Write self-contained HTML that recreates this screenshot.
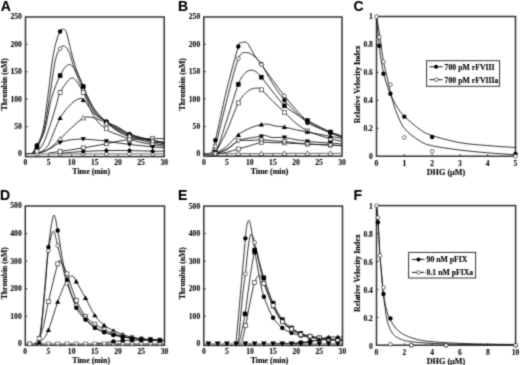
<!DOCTYPE html>
<html><head><meta charset="utf-8"><style>
html,body{margin:0;padding:0;background:#fff;width:520px;height:365px;overflow:hidden}
svg{display:block;filter:grayscale(100%)}
</style></head><body>
<svg width="520" height="365" viewBox="0 0 520 365">
<defs><filter id="bl" x="0" y="0" width="520" height="365" filterUnits="userSpaceOnUse" color-interpolation-filters="sRGB"><feConvolveMatrix order="3" kernelMatrix="0.0276 0.1109 0.0276 0.1109 0.4460 0.1109 0.0276 0.1109 0.0276" divisor="1" edgeMode="duplicate"/></filter></defs>
<g filter="url(#bl)">
<rect width="520" height="365" fill="#fff"/>
<text transform="translate(0.7,10.8) scale(1.0,1)" font-size="14" font-family="Liberation Sans" font-weight="bold" stroke="#000" stroke-width="0.1">A</text>
<rect x="25.5" y="17" width="138.7" height="139.6" fill="none" stroke="#333" stroke-width="1.5"/>
<line x1="48.53" y1="156.6" x2="48.53" y2="154.6" stroke="#333" stroke-width="1"/>
<line x1="71.67" y1="156.6" x2="71.67" y2="154.6" stroke="#333" stroke-width="1"/>
<line x1="94.8" y1="156.6" x2="94.8" y2="154.6" stroke="#333" stroke-width="1"/>
<line x1="117.93" y1="156.6" x2="117.93" y2="154.6" stroke="#333" stroke-width="1"/>
<line x1="141.07" y1="156.6" x2="141.07" y2="154.6" stroke="#333" stroke-width="1"/>
<line x1="25.5" y1="126.52" x2="27.5" y2="126.52" stroke="#333" stroke-width="1"/>
<line x1="25.5" y1="99.14" x2="27.5" y2="99.14" stroke="#333" stroke-width="1"/>
<line x1="25.5" y1="71.76" x2="27.5" y2="71.76" stroke="#333" stroke-width="1"/>
<line x1="25.5" y1="44.38" x2="27.5" y2="44.38" stroke="#333" stroke-width="1"/>
<text x="25.4" y="165.4" text-anchor="middle" font-size="7.6" font-family="Liberation Serif" font-weight="bold" fill="#000" stroke="#000" stroke-width="0.08">0</text>
<text x="48.53" y="165.4" text-anchor="middle" font-size="7.6" font-family="Liberation Serif" font-weight="bold" fill="#000" stroke="#000" stroke-width="0.08">5</text>
<text x="71.67" y="165.4" text-anchor="middle" font-size="7.6" font-family="Liberation Serif" font-weight="bold" fill="#000" stroke="#000" stroke-width="0.08">10</text>
<text x="94.8" y="165.4" text-anchor="middle" font-size="7.6" font-family="Liberation Serif" font-weight="bold" fill="#000" stroke="#000" stroke-width="0.08">15</text>
<text x="117.93" y="165.4" text-anchor="middle" font-size="7.6" font-family="Liberation Serif" font-weight="bold" fill="#000" stroke="#000" stroke-width="0.08">20</text>
<text x="141.07" y="165.4" text-anchor="middle" font-size="7.6" font-family="Liberation Serif" font-weight="bold" fill="#000" stroke="#000" stroke-width="0.08">25</text>
<text x="164.2" y="165.4" text-anchor="middle" font-size="7.6" font-family="Liberation Serif" font-weight="bold" fill="#000" stroke="#000" stroke-width="0.08">30</text>
<text x="21.9" y="156.3" text-anchor="end" font-size="7.6" font-family="Liberation Serif" font-weight="bold" fill="#000" stroke="#000" stroke-width="0.08">0</text>
<text x="21.9" y="128.92" text-anchor="end" font-size="7.6" font-family="Liberation Serif" font-weight="bold" fill="#000" stroke="#000" stroke-width="0.08">50</text>
<text x="21.9" y="101.54" text-anchor="end" font-size="7.6" font-family="Liberation Serif" font-weight="bold" fill="#000" stroke="#000" stroke-width="0.08">100</text>
<text x="21.9" y="74.16" text-anchor="end" font-size="7.6" font-family="Liberation Serif" font-weight="bold" fill="#000" stroke="#000" stroke-width="0.08">150</text>
<text x="21.9" y="46.78" text-anchor="end" font-size="7.6" font-family="Liberation Serif" font-weight="bold" fill="#000" stroke="#000" stroke-width="0.08">200</text>
<text x="21.9" y="19.4" text-anchor="end" font-size="7.6" font-family="Liberation Serif" font-weight="bold" fill="#000" stroke="#000" stroke-width="0.08">250</text>
<text transform="translate(6.9,84.3) rotate(-90)" text-anchor="middle" font-size="7.7" font-family="Liberation Serif" font-weight="bold" stroke="#000" stroke-width="0.12">Thrombin (nM)</text>
<text x="91.2" y="173.9" text-anchor="middle" font-size="7.9" font-family="Liberation Serif" font-weight="bold" stroke="#000" stroke-width="0.12">Time (min)</text>
<path d="M25.4,153.9 C48.53,153.9 141.07,153.9 164.2,153.9" fill="none" stroke="#555" stroke-width="0.9"/>
<path d="M60.1,153.35 C63.96,153.04 75.52,151.95 83.23,151.49 C90.94,151.03 98.66,150.76 106.37,150.61 C114.08,150.47 121.79,150.52 129.5,150.61 C137.21,150.71 146.85,151.07 152.63,151.16 C158.42,151.25 162.27,151.16 164.2,151.16" fill="none" stroke="#1a1a1a" stroke-width="0.9"/>
<path d="M48.53,153.08 C50.46,152.8 56.24,151.98 60.1,151.44 C63.96,150.89 67.81,150.39 71.67,149.79 C75.52,149.2 79.38,148.52 83.23,147.88 C87.09,147.24 90.94,146.64 94.8,145.96 C98.66,145.28 102.51,144.6 106.37,143.82 C110.22,143.05 114.08,142.03 117.93,141.31 C121.79,140.58 125.64,139.91 129.5,139.5 C133.36,139.09 137.21,139 141.07,138.84 C144.92,138.69 148.78,138.61 152.63,138.57 C156.49,138.52 162.27,138.57 164.2,138.57" fill="none" stroke="#1a1a1a" stroke-width="0.9"/>
<path d="M36.97,153.63 C38.89,152.94 44.68,151.35 48.53,149.52 C52.39,147.68 56.24,144.26 60.1,142.62 C63.96,140.98 67.81,140.25 71.67,139.66 C75.52,139.08 79.38,139.07 83.23,139.11 C87.09,139.16 90.94,139.61 94.8,139.94 C98.66,140.26 102.51,140.58 106.37,141.09 C110.22,141.59 114.08,142.39 117.93,142.95 C121.79,143.5 125.64,143.97 129.5,144.43 C133.36,144.88 137.21,145.28 141.07,145.69 C144.92,146.1 148.78,146.53 152.63,146.89 C156.49,147.26 162.27,147.71 164.2,147.88" fill="none" stroke="#1a1a1a" stroke-width="0.9"/>
<path d="M36.97,153.35 C38.51,152.9 43.33,152.12 46.22,150.61 C49.11,149.11 52,146.23 54.32,144.32 C56.63,142.4 57.21,141.9 60.1,139.11 C62.99,136.33 67.81,131.13 71.67,127.62 C75.52,124.1 80.07,119.77 83.23,118.03 C86.39,116.3 88.32,117.07 90.64,117.21 C92.95,117.35 94.49,117.85 97.11,118.85 C99.74,119.86 102.9,121.32 106.37,123.23 C109.84,125.15 114.08,128.25 117.93,130.35 C121.79,132.45 125.64,134.46 129.5,135.83 C133.36,137.2 137.21,137.75 141.07,138.57 C144.92,139.39 148.78,140.12 152.63,140.76 C156.49,141.4 162.27,142.13 164.2,142.4" fill="none" stroke="#1a1a1a" stroke-width="0.9"/>
<path d="M25.4,153.9 C27.33,153.72 34.04,153.35 36.97,152.8 C39.9,152.26 40.98,152.15 42.98,150.61 C44.99,149.08 46.14,149.04 49,143.61 C51.85,138.17 56.32,124.71 60.1,118.03 C63.88,111.35 68.35,106.76 71.67,103.52 C74.98,100.28 77.84,99.05 79.99,98.59 C82.15,98.14 82.15,98.14 84.62,100.78 C87.09,103.43 91.18,111.05 94.8,114.47 C98.42,117.9 102.51,119.04 106.37,121.32 C110.22,123.6 114.08,126.09 117.93,128.16 C121.79,130.23 125.64,132.2 129.5,133.75 C133.36,135.3 137.21,136.4 141.07,137.47 C144.92,138.55 148.78,139.39 152.63,140.21 C156.49,141.03 162.27,142.04 164.2,142.4" fill="none" stroke="#1a1a1a" stroke-width="0.9"/>
<path d="M32.34,153.63 C33.11,153.22 35.19,152.76 36.97,151.16 C38.74,149.56 41.05,147.57 42.98,144.04 C44.91,140.52 46.45,136.05 48.53,130.02 C50.62,124 53.55,114.14 55.47,107.9 C57.4,101.66 57.63,97.45 60.1,92.57 C62.57,87.69 67.58,80.52 70.28,78.61 C72.98,76.69 74.13,78.74 76.29,81.07 C78.45,83.4 81.61,89.65 83.23,92.57 C84.85,95.49 84.08,94.39 86.01,98.59 C87.94,102.79 91.41,112.6 94.8,117.76 C98.19,122.91 102.51,126.7 106.37,129.53 C110.22,132.36 114.08,133.14 117.93,134.73 C121.79,136.33 125.64,137.84 129.5,139.11 C133.36,140.39 137.21,141.49 141.07,142.4 C144.92,143.31 148.78,143.95 152.63,144.59 C156.49,145.23 162.27,145.96 164.2,146.23" fill="none" stroke="#1a1a1a" stroke-width="0.9"/>
<path d="M32.34,153.63 C33.11,152.49 34.88,150.71 36.97,146.78 C39.05,142.85 42.4,138.1 44.83,130.02 C47.26,121.95 49,107.39 51.54,98.32 C54.09,89.25 57.29,81.21 60.1,75.59 C62.91,69.98 65.73,65.37 68.43,64.64 C71.13,63.91 73.83,67.56 76.29,71.21 C78.76,74.86 81.61,82.62 83.23,86.55 C84.85,90.47 84.08,90.38 86.01,94.76 C87.94,99.14 91.41,108.27 94.8,112.83 C98.19,117.39 102.51,119.4 106.37,122.14 C110.22,124.88 114.08,127.07 117.93,129.26 C121.79,131.45 125.64,133.68 129.5,135.28 C133.36,136.88 137.21,137.84 141.07,138.84 C144.92,139.84 148.78,140.53 152.63,141.31 C156.49,142.08 162.27,143.13 164.2,143.5" fill="none" stroke="#1a1a1a" stroke-width="0.9"/>
<path d="M32.34,153.35 C33.11,152.53 35.04,152.31 36.97,148.42 C38.89,144.54 41.82,138.38 43.91,130.02 C45.99,121.67 47.57,109.85 49.46,98.32 C51.35,86.78 53.47,69.07 55.24,60.81 C57.02,52.55 58.6,51.22 60.1,48.76 C61.6,46.3 62.72,45.38 64.26,46.02 C65.81,46.66 67.66,48.76 69.35,52.59 C71.05,56.43 72.13,62.72 74.44,69.02 C76.76,75.32 81.31,85.91 83.23,90.38 C85.16,94.85 84.08,92.39 86.01,95.85 C87.94,99.32 91.41,106.81 94.8,111.19 C98.19,115.57 102.51,118.76 106.37,122.14 C110.22,125.52 114.08,128.98 117.93,131.45 C121.79,133.91 125.64,135.46 129.5,136.92 C133.36,138.38 137.21,139.21 141.07,140.21 C144.92,141.21 148.78,142.13 152.63,142.95 C156.49,143.77 162.27,144.77 164.2,145.14" fill="none" stroke="#1a1a1a" stroke-width="0.9"/>
<path d="M32.34,153.35 C33.11,151.98 35.19,149.03 36.97,145.14 C38.74,141.25 41.21,137.83 42.98,130.02 C44.75,122.22 46.03,110 47.61,98.32 C49.19,86.64 51,69.47 52.47,59.93 C53.93,50.39 55.13,45.83 56.4,41.09 C57.67,36.36 58.94,33.47 60.1,31.51 C61.26,29.55 62.3,29.18 63.34,29.32 C64.38,29.46 65.04,28.64 66.35,32.33 C67.66,36.03 69.51,45.2 71.2,51.5 C72.9,57.8 74.52,64.32 76.52,70.12 C78.53,75.91 81.65,82.44 83.23,86.27 C84.81,90.1 84.08,89.24 86.01,93.12 C87.94,97 91.41,104.8 94.8,109.54 C98.19,114.29 102.51,118.67 106.37,121.59 C110.22,124.51 114.08,124.97 117.93,127.07 C121.79,129.17 125.64,132.36 129.5,134.19 C133.36,136.01 137.21,136.88 141.07,138.02 C144.92,139.16 148.78,140.12 152.63,141.03 C156.49,141.94 162.27,143.08 164.2,143.5" fill="none" stroke="#1a1a1a" stroke-width="0.9"/>
<circle cx="36.97" cy="145.14" r="2.2" fill="#000"/>
<circle cx="60.1" cy="31.51" r="2.2" fill="#000"/>
<circle cx="83.23" cy="86.55" r="2.2" fill="#000"/>
<circle cx="106.37" cy="121.59" r="2.2" fill="#000"/>
<circle cx="129.5" cy="134.19" r="2.2" fill="#000"/>
<circle cx="152.63" cy="141.03" r="2.2" fill="#000"/>
<circle cx="36.97" cy="153.9" r="1.9" fill="#fff" stroke="#222" stroke-width="0.65"/>
<circle cx="60.1" cy="153.9" r="1.9" fill="#fff" stroke="#222" stroke-width="0.65"/>
<circle cx="83.23" cy="153.9" r="1.9" fill="#fff" stroke="#222" stroke-width="0.65"/>
<circle cx="106.37" cy="153.9" r="1.9" fill="#fff" stroke="#222" stroke-width="0.65"/>
<circle cx="129.5" cy="153.9" r="1.9" fill="#fff" stroke="#222" stroke-width="0.65"/>
<circle cx="152.63" cy="153.9" r="1.9" fill="#fff" stroke="#222" stroke-width="0.65"/>
<circle cx="36.97" cy="148.42" r="1.9" fill="#fff" stroke="#222" stroke-width="0.65"/>
<circle cx="60.1" cy="48.76" r="1.9" fill="#fff" stroke="#222" stroke-width="0.65"/>
<circle cx="83.23" cy="90.38" r="1.9" fill="#fff" stroke="#222" stroke-width="0.65"/>
<circle cx="106.37" cy="122.14" r="1.9" fill="#fff" stroke="#222" stroke-width="0.65"/>
<circle cx="129.5" cy="136.92" r="1.9" fill="#fff" stroke="#222" stroke-width="0.65"/>
<circle cx="152.63" cy="142.95" r="1.9" fill="#fff" stroke="#222" stroke-width="0.65"/>
<rect x="34.72" y="144.53" width="4.5" height="4.5" fill="#000"/>
<rect x="57.85" y="73.34" width="4.5" height="4.5" fill="#000"/>
<rect x="80.98" y="84.3" width="4.5" height="4.5" fill="#000"/>
<rect x="104.12" y="119.89" width="4.5" height="4.5" fill="#000"/>
<rect x="127.25" y="133.03" width="4.5" height="4.5" fill="#000"/>
<rect x="150.38" y="139.06" width="4.5" height="4.5" fill="#000"/>
<rect x="58.15" y="149.49" width="3.9" height="3.9" fill="#fff" stroke="#222" stroke-width="0.65"/>
<rect x="81.28" y="145.93" width="3.9" height="3.9" fill="#fff" stroke="#222" stroke-width="0.65"/>
<rect x="104.42" y="141.87" width="3.9" height="3.9" fill="#fff" stroke="#222" stroke-width="0.65"/>
<rect x="127.55" y="137.55" width="3.9" height="3.9" fill="#fff" stroke="#222" stroke-width="0.65"/>
<rect x="150.68" y="136.62" width="3.9" height="3.9" fill="#fff" stroke="#222" stroke-width="0.65"/>
<rect x="35.02" y="149.21" width="3.9" height="3.9" fill="#fff" stroke="#222" stroke-width="0.65"/>
<rect x="58.15" y="90.62" width="3.9" height="3.9" fill="#fff" stroke="#222" stroke-width="0.65"/>
<rect x="81.28" y="90.62" width="3.9" height="3.9" fill="#fff" stroke="#222" stroke-width="0.65"/>
<rect x="104.42" y="126.76" width="3.9" height="3.9" fill="#fff" stroke="#222" stroke-width="0.65"/>
<rect x="127.55" y="137.16" width="3.9" height="3.9" fill="#fff" stroke="#222" stroke-width="0.65"/>
<rect x="150.68" y="142.64" width="3.9" height="3.9" fill="#fff" stroke="#222" stroke-width="0.65"/>
<polygon points="60.1,115.53 62.72,119.91 57.47,119.91" fill="#000"/>
<polygon points="83.23,97.74 85.86,102.11 80.61,102.11" fill="#000"/>
<polygon points="106.37,118.82 108.99,123.19 103.74,123.19" fill="#000"/>
<polygon points="129.5,131.25 132.12,135.62 126.87,135.62" fill="#000"/>
<polygon points="152.63,137.71 155.26,142.09 150.01,142.09" fill="#000"/>
<polygon points="60.1,136.61 62.72,140.99 57.47,140.99" fill="#fff" stroke="#222" stroke-width="0.65"/>
<polygon points="83.23,115.53 85.86,119.91 80.61,119.91" fill="#fff" stroke="#222" stroke-width="0.65"/>
<polygon points="106.37,120.73 108.99,125.11 103.74,125.11" fill="#fff" stroke="#222" stroke-width="0.65"/>
<polygon points="129.5,133.33 132.12,137.7 126.87,137.7" fill="#fff" stroke="#222" stroke-width="0.65"/>
<polygon points="152.63,138.26 155.26,142.63 150.01,142.63" fill="#fff" stroke="#222" stroke-width="0.65"/>
<polygon points="60.1,145.12 62.72,140.74 57.47,140.74" fill="#000"/>
<polygon points="83.23,141.61 85.86,137.24 80.61,137.24" fill="#000"/>
<polygon points="106.37,143.59 108.99,139.21 103.74,139.21" fill="#000"/>
<polygon points="129.5,146.93 132.12,142.55 126.87,142.55" fill="#000"/>
<polygon points="152.63,149.39 155.26,145.02 150.01,145.02" fill="#000"/>
<polygon points="83.23,148.99 85.73,151.49 83.23,153.99 80.73,151.49" fill="#000"/>
<polygon points="106.37,148.11 108.87,150.61 106.37,153.11 103.87,150.61" fill="#000"/>
<polygon points="129.5,148.11 132,150.61 129.5,153.11 127,150.61" fill="#000"/>
<polygon points="152.63,148.83 155.13,151.33 152.63,153.83 150.13,151.33" fill="#000"/>
<text transform="translate(178,10.8) scale(1.0,1)" font-size="14" font-family="Liberation Sans" font-weight="bold" stroke="#000" stroke-width="0.1">B</text>
<rect x="203.8" y="17" width="138.2" height="139.2" fill="none" stroke="#333" stroke-width="1.5"/>
<line x1="226.83" y1="156.2" x2="226.83" y2="154.2" stroke="#333" stroke-width="1"/>
<line x1="249.87" y1="156.2" x2="249.87" y2="154.2" stroke="#333" stroke-width="1"/>
<line x1="272.9" y1="156.2" x2="272.9" y2="154.2" stroke="#333" stroke-width="1"/>
<line x1="295.93" y1="156.2" x2="295.93" y2="154.2" stroke="#333" stroke-width="1"/>
<line x1="318.97" y1="156.2" x2="318.97" y2="154.2" stroke="#333" stroke-width="1"/>
<line x1="203.8" y1="126.52" x2="205.8" y2="126.52" stroke="#333" stroke-width="1"/>
<line x1="203.8" y1="99.14" x2="205.8" y2="99.14" stroke="#333" stroke-width="1"/>
<line x1="203.8" y1="71.76" x2="205.8" y2="71.76" stroke="#333" stroke-width="1"/>
<line x1="203.8" y1="44.38" x2="205.8" y2="44.38" stroke="#333" stroke-width="1"/>
<text x="203.8" y="165.4" text-anchor="middle" font-size="7.6" font-family="Liberation Serif" font-weight="bold" fill="#000" stroke="#000" stroke-width="0.08">0</text>
<text x="226.83" y="165.4" text-anchor="middle" font-size="7.6" font-family="Liberation Serif" font-weight="bold" fill="#000" stroke="#000" stroke-width="0.08">5</text>
<text x="249.87" y="165.4" text-anchor="middle" font-size="7.6" font-family="Liberation Serif" font-weight="bold" fill="#000" stroke="#000" stroke-width="0.08">10</text>
<text x="272.9" y="165.4" text-anchor="middle" font-size="7.6" font-family="Liberation Serif" font-weight="bold" fill="#000" stroke="#000" stroke-width="0.08">15</text>
<text x="295.93" y="165.4" text-anchor="middle" font-size="7.6" font-family="Liberation Serif" font-weight="bold" fill="#000" stroke="#000" stroke-width="0.08">20</text>
<text x="318.97" y="165.4" text-anchor="middle" font-size="7.6" font-family="Liberation Serif" font-weight="bold" fill="#000" stroke="#000" stroke-width="0.08">25</text>
<text x="342" y="165.4" text-anchor="middle" font-size="7.6" font-family="Liberation Serif" font-weight="bold" fill="#000" stroke="#000" stroke-width="0.08">30</text>
<text x="200.2" y="156.3" text-anchor="end" font-size="7.6" font-family="Liberation Serif" font-weight="bold" fill="#000" stroke="#000" stroke-width="0.08">0</text>
<text x="200.2" y="128.92" text-anchor="end" font-size="7.6" font-family="Liberation Serif" font-weight="bold" fill="#000" stroke="#000" stroke-width="0.08">50</text>
<text x="200.2" y="101.54" text-anchor="end" font-size="7.6" font-family="Liberation Serif" font-weight="bold" fill="#000" stroke="#000" stroke-width="0.08">100</text>
<text x="200.2" y="74.16" text-anchor="end" font-size="7.6" font-family="Liberation Serif" font-weight="bold" fill="#000" stroke="#000" stroke-width="0.08">150</text>
<text x="200.2" y="46.78" text-anchor="end" font-size="7.6" font-family="Liberation Serif" font-weight="bold" fill="#000" stroke="#000" stroke-width="0.08">200</text>
<text x="200.2" y="19.4" text-anchor="end" font-size="7.6" font-family="Liberation Serif" font-weight="bold" fill="#000" stroke="#000" stroke-width="0.08">250</text>
<text transform="translate(185.3,84.3) rotate(-90)" text-anchor="middle" font-size="7.7" font-family="Liberation Serif" font-weight="bold" stroke="#000" stroke-width="0.12">Thrombin (nM)</text>
<text x="269.6" y="173.9" text-anchor="middle" font-size="7.9" font-family="Liberation Serif" font-weight="bold" stroke="#000" stroke-width="0.12">Time (min)</text>
<path d="M203.8,153.9 C205.72,153.9 209.56,153.95 215.32,153.9 C221.08,153.85 230.67,153.67 238.35,153.63 C246.03,153.58 253.71,153.67 261.38,153.63 C269.06,153.58 276.74,153.4 284.42,153.35 C292.09,153.31 299.77,153.35 307.45,153.35 C315.13,153.35 324.73,153.35 330.48,153.35 C336.24,153.35 340.08,153.35 342,153.35" fill="none" stroke="#555" stroke-width="0.9"/>
<path d="M215.32,153.9 C217.24,153.63 222.99,153.08 226.83,152.26 C230.67,151.44 234.51,150.07 238.35,148.97 C242.19,147.88 246.03,146.76 249.87,145.69 C253.71,144.61 257.54,143.01 261.38,142.51 C265.22,142.01 269.06,142.6 272.9,142.67 C276.74,142.75 280.58,142.81 284.42,142.95 C288.26,143.08 292.09,143.31 295.93,143.5 C299.77,143.68 303.61,143.86 307.45,144.04 C311.29,144.23 315.13,144.41 318.97,144.59 C322.81,144.77 326.64,144.96 330.48,145.14 C334.32,145.32 340.08,145.59 342,145.69" fill="none" stroke="#1a1a1a" stroke-width="0.9"/>
<path d="M215.32,153.9 C217.24,153.17 222.99,151.66 226.83,149.52 C230.67,147.37 234.51,142.54 238.35,141.03 C242.19,139.53 246.03,140.68 249.87,140.48 C253.71,140.29 257.54,139.84 261.38,139.88 C265.22,139.93 269.06,140.47 272.9,140.76 C276.74,141.04 280.58,141.21 284.42,141.58 C288.26,141.94 292.09,142.54 295.93,142.95 C299.77,143.36 303.61,143.77 307.45,144.04 C311.29,144.32 315.13,144.41 318.97,144.59 C322.81,144.77 326.64,144.96 330.48,145.14 C334.32,145.32 340.08,145.59 342,145.69" fill="none" stroke="#1a1a1a" stroke-width="0.9"/>
<path d="M215.32,153.9 C217.47,152.95 224.38,150.4 228.22,148.2 C232.05,146.01 234.74,142.46 238.35,140.76 C241.96,139.06 246.03,138.75 249.87,138.02 C253.71,137.29 258.77,136.79 261.38,136.38 C263.99,135.97 263.76,135.37 265.53,135.56 C267.3,135.74 268.83,137.15 271.98,137.47 C275.13,137.79 280.42,137.11 284.42,137.47 C288.41,137.84 292.09,139.02 295.93,139.66 C299.77,140.3 303.61,140.85 307.45,141.31 C311.29,141.76 315.13,142.13 318.97,142.4 C322.81,142.67 326.64,142.67 330.48,142.95 C334.32,143.22 340.08,143.86 342,144.04" fill="none" stroke="#1a1a1a" stroke-width="0.9"/>
<path d="M215.32,153.63 C217.24,152.39 222.99,149.38 226.83,146.23 C230.67,143.08 234.51,137.75 238.35,134.73 C242.19,131.72 246.03,129.85 249.87,128.16 C253.71,126.47 258.31,125.24 261.38,124.6 C264.45,123.96 265.99,124.1 268.29,124.33 C270.6,124.56 272.52,125.52 275.2,125.97 C277.89,126.43 280.96,126.43 284.42,127.07 C287.87,127.71 292.09,128.98 295.93,129.81 C299.77,130.63 303.61,131.27 307.45,132 C311.29,132.73 315.13,133.46 318.97,134.19 C322.81,134.92 326.64,135.65 330.48,136.38 C334.32,137.11 340.08,138.2 342,138.57" fill="none" stroke="#1a1a1a" stroke-width="0.9"/>
<path d="M215.32,153.35 C217.24,149.61 222.99,139.3 226.83,130.9 C230.67,122.5 234.9,109.54 238.35,102.97 C241.81,96.4 244.72,93.94 247.56,91.47 C250.4,89.01 253.09,88.46 255.39,88.19 C257.7,87.91 258.47,87.64 261.38,89.83 C264.3,92.02 269.06,97.59 272.9,101.33 C276.74,105.07 280.58,108.63 284.42,112.28 C288.26,115.93 292.09,120.13 295.93,123.23 C299.77,126.34 303.61,128.89 307.45,130.9 C311.29,132.91 315.13,133.96 318.97,135.28 C322.81,136.6 326.64,137.84 330.48,138.84 C334.32,139.84 340.08,140.89 342,141.31" fill="none" stroke="#1a1a1a" stroke-width="0.9"/>
<path d="M203.8,153.9 C205.72,153.63 211.48,157.92 215.32,152.26 C219.16,146.6 222.99,131.27 226.83,119.95 C230.67,108.63 235.28,92.2 238.35,84.35 C241.42,76.51 243.03,75.23 245.26,72.86 C247.49,70.48 249.79,70.21 251.71,70.12 C253.63,70.03 255.16,71.12 256.78,72.31 C258.39,73.49 258.7,73.95 261.38,77.24 C264.07,80.52 269.06,87.28 272.9,92.02 C276.74,96.77 280.58,102.06 284.42,105.71 C288.26,109.36 292.09,111.46 295.93,113.93 C299.77,116.39 303.61,118.4 307.45,120.5 C311.29,122.6 315.13,124.6 318.97,126.52 C322.81,128.44 326.64,130.44 330.48,132 C334.32,133.55 340.08,135.19 342,135.83" fill="none" stroke="#1a1a1a" stroke-width="0.9"/>
<path d="M210.71,153.35 C211.48,152.17 212.63,155.09 215.32,146.23 C218,137.38 222.99,114.84 226.83,100.24 C230.67,85.63 235.05,66.56 238.35,58.62 C241.65,50.68 243.95,52.96 246.64,52.59 C249.33,52.23 252.02,54.42 254.47,56.43 C256.93,58.44 258.31,60.63 261.38,64.64 C264.45,68.66 269.06,75.32 272.9,80.52 C276.74,85.72 280.58,91.02 284.42,95.85 C288.26,100.69 292.09,105.35 295.93,109.54 C299.77,113.74 303.61,118.12 307.45,121.04 C311.29,123.96 315.13,125.15 318.97,127.07 C322.81,128.98 326.64,130.9 330.48,132.54 C334.32,134.19 340.08,136.19 342,136.92" fill="none" stroke="#1a1a1a" stroke-width="0.9"/>
<path d="M203.8,153.9 C204.95,153.72 208.79,155.09 210.71,152.8 C212.63,150.52 212.63,150.8 215.32,140.21 C218,129.62 222.99,104.89 226.83,89.28 C230.67,73.68 235.89,54.28 238.35,46.57 C240.81,38.86 240.5,43.79 241.57,43.01 C242.65,42.24 243.8,41.87 244.8,41.92 C245.8,41.96 246.72,42.42 247.56,43.28 C248.41,44.15 248.52,44.84 249.87,47.12 C251.21,49.4 253.71,54.15 255.62,56.97 C257.54,59.8 258.5,59.62 261.38,64.09 C264.26,68.57 269.06,77.78 272.9,83.81 C276.74,89.83 280.58,95.49 284.42,100.24 C288.26,104.98 292.09,108.54 295.93,112.28 C299.77,116.02 303.61,120.04 307.45,122.69 C311.29,125.33 315.13,126.43 318.97,128.16 C322.81,129.9 326.64,131.54 330.48,133.09 C334.32,134.64 340.08,136.74 342,137.47" fill="none" stroke="#1a1a1a" stroke-width="0.9"/>
<circle cx="215.32" cy="140.21" r="2.2" fill="#000"/>
<circle cx="238.35" cy="46.57" r="2.2" fill="#000"/>
<circle cx="261.38" cy="64.09" r="2.2" fill="#000"/>
<circle cx="284.42" cy="100.24" r="2.2" fill="#000"/>
<circle cx="307.45" cy="122.69" r="2.2" fill="#000"/>
<circle cx="330.48" cy="133.09" r="2.2" fill="#000"/>
<circle cx="215.32" cy="146.23" r="1.9" fill="#fff" stroke="#222" stroke-width="0.65"/>
<circle cx="238.35" cy="58.62" r="1.9" fill="#fff" stroke="#222" stroke-width="0.65"/>
<circle cx="261.38" cy="64.64" r="1.9" fill="#fff" stroke="#222" stroke-width="0.65"/>
<circle cx="284.42" cy="95.85" r="1.9" fill="#fff" stroke="#222" stroke-width="0.65"/>
<circle cx="307.45" cy="121.04" r="1.9" fill="#fff" stroke="#222" stroke-width="0.65"/>
<circle cx="330.48" cy="132.54" r="1.9" fill="#fff" stroke="#222" stroke-width="0.65"/>
<rect x="213.07" y="150.01" width="4.5" height="4.5" fill="#000"/>
<rect x="236.1" y="82.1" width="4.5" height="4.5" fill="#000"/>
<rect x="259.13" y="74.99" width="4.5" height="4.5" fill="#000"/>
<rect x="282.17" y="103.46" width="4.5" height="4.5" fill="#000"/>
<rect x="305.2" y="118.25" width="4.5" height="4.5" fill="#000"/>
<rect x="328.23" y="129.75" width="4.5" height="4.5" fill="#000"/>
<rect x="236.4" y="147.02" width="3.9" height="3.9" fill="#fff" stroke="#222" stroke-width="0.65"/>
<rect x="259.43" y="140.56" width="3.9" height="3.9" fill="#fff" stroke="#222" stroke-width="0.65"/>
<rect x="282.47" y="141" width="3.9" height="3.9" fill="#fff" stroke="#222" stroke-width="0.65"/>
<rect x="305.5" y="142.09" width="3.9" height="3.9" fill="#fff" stroke="#222" stroke-width="0.65"/>
<rect x="328.53" y="143.19" width="3.9" height="3.9" fill="#fff" stroke="#222" stroke-width="0.65"/>
<rect x="213.37" y="151.4" width="3.9" height="3.9" fill="#fff" stroke="#222" stroke-width="0.65"/>
<rect x="236.4" y="101.02" width="3.9" height="3.9" fill="#fff" stroke="#222" stroke-width="0.65"/>
<rect x="259.43" y="87.88" width="3.9" height="3.9" fill="#fff" stroke="#222" stroke-width="0.65"/>
<rect x="282.47" y="110.33" width="3.9" height="3.9" fill="#fff" stroke="#222" stroke-width="0.65"/>
<rect x="305.5" y="128.95" width="3.9" height="3.9" fill="#fff" stroke="#222" stroke-width="0.65"/>
<rect x="328.53" y="136.89" width="3.9" height="3.9" fill="#fff" stroke="#222" stroke-width="0.65"/>
<polygon points="215.32,151.13 217.94,155.5 212.69,155.5" fill="#000"/>
<polygon points="238.35,132.62 240.98,136.99 235.73,136.99" fill="#000"/>
<polygon points="261.38,122.1 264.01,126.48 258.76,126.48" fill="#000"/>
<polygon points="284.42,124.57 287.04,128.94 281.79,128.94" fill="#000"/>
<polygon points="307.45,129.5 310.07,133.87 304.82,133.87" fill="#000"/>
<polygon points="330.48,133.88 333.11,138.25 327.86,138.25" fill="#000"/>
<polygon points="215.32,151.4 217.94,155.78 212.69,155.78" fill="#fff" stroke="#222" stroke-width="0.65"/>
<polygon points="238.35,151.13 240.98,155.5 235.73,155.5" fill="#fff" stroke="#222" stroke-width="0.65"/>
<polygon points="261.38,151.13 264.01,155.5 258.76,155.5" fill="#fff" stroke="#222" stroke-width="0.65"/>
<polygon points="284.42,150.85 287.04,155.23 281.79,155.23" fill="#fff" stroke="#222" stroke-width="0.65"/>
<polygon points="307.45,150.85 310.07,155.23 304.82,155.23" fill="#fff" stroke="#222" stroke-width="0.65"/>
<polygon points="330.48,150.85 333.11,155.23 327.86,155.23" fill="#fff" stroke="#222" stroke-width="0.65"/>
<polygon points="215.32,156.4 217.94,152.03 212.69,152.03" fill="#000"/>
<polygon points="261.38,138.88 264.01,134.5 258.76,134.5" fill="#000"/>
<polygon points="284.42,139.97 287.04,135.6 281.79,135.6" fill="#000"/>
<polygon points="307.45,143.81 310.07,139.43 304.82,139.43" fill="#000"/>
<polygon points="330.48,145.45 333.11,141.07 327.86,141.07" fill="#000"/>
<polygon points="215.32,156.4 217.94,152.03 212.69,152.03" fill="#fff" stroke="#222" stroke-width="0.65"/>
<polygon points="238.35,143.26 240.98,138.88 235.73,138.88" fill="#fff" stroke="#222" stroke-width="0.65"/>
<polygon points="261.38,142.38 264.01,138.01 258.76,138.01" fill="#fff" stroke="#222" stroke-width="0.65"/>
<polygon points="284.42,144.08 287.04,139.7 281.79,139.7" fill="#fff" stroke="#222" stroke-width="0.65"/>
<polygon points="307.45,146.54 310.07,142.17 304.82,142.17" fill="#fff" stroke="#222" stroke-width="0.65"/>
<polygon points="330.48,147.64 333.11,143.26 327.86,143.26" fill="#fff" stroke="#222" stroke-width="0.65"/>
<text transform="translate(353.4,10.8) scale(1.0,1)" font-size="14" font-family="Liberation Sans" font-weight="bold" stroke="#000" stroke-width="0.1">C</text>
<rect x="376.5" y="16.5" width="139" height="139.7" fill="none" stroke="#333" stroke-width="1.5"/>
<line x1="404.3" y1="156.2" x2="404.3" y2="154.2" stroke="#333" stroke-width="1"/>
<line x1="432.1" y1="156.2" x2="432.1" y2="154.2" stroke="#333" stroke-width="1"/>
<line x1="459.9" y1="156.2" x2="459.9" y2="154.2" stroke="#333" stroke-width="1"/>
<line x1="487.7" y1="156.2" x2="487.7" y2="154.2" stroke="#333" stroke-width="1"/>
<line x1="376.5" y1="128.26" x2="378.5" y2="128.26" stroke="#333" stroke-width="1"/>
<line x1="376.5" y1="100.32" x2="378.5" y2="100.32" stroke="#333" stroke-width="1"/>
<line x1="376.5" y1="72.38" x2="378.5" y2="72.38" stroke="#333" stroke-width="1"/>
<line x1="376.5" y1="44.44" x2="378.5" y2="44.44" stroke="#333" stroke-width="1"/>
<text x="376.5" y="165.8" text-anchor="middle" font-size="7.6" font-family="Liberation Serif" font-weight="bold" fill="#000" stroke="#000" stroke-width="0.08">0</text>
<text x="404.3" y="165.8" text-anchor="middle" font-size="7.6" font-family="Liberation Serif" font-weight="bold" fill="#000" stroke="#000" stroke-width="0.08">1</text>
<text x="432.1" y="165.8" text-anchor="middle" font-size="7.6" font-family="Liberation Serif" font-weight="bold" fill="#000" stroke="#000" stroke-width="0.08">2</text>
<text x="459.9" y="165.8" text-anchor="middle" font-size="7.6" font-family="Liberation Serif" font-weight="bold" fill="#000" stroke="#000" stroke-width="0.08">3</text>
<text x="487.7" y="165.8" text-anchor="middle" font-size="7.6" font-family="Liberation Serif" font-weight="bold" fill="#000" stroke="#000" stroke-width="0.08">4</text>
<text x="515.5" y="165.8" text-anchor="middle" font-size="7.6" font-family="Liberation Serif" font-weight="bold" fill="#000" stroke="#000" stroke-width="0.08">5</text>
<text x="372.9" y="159.1" text-anchor="end" font-size="7.6" font-family="Liberation Serif" font-weight="bold" fill="#000" stroke="#000" stroke-width="0.08">0</text>
<text x="372.9" y="131.16" text-anchor="end" font-size="7.6" font-family="Liberation Serif" font-weight="bold" fill="#000" stroke="#000" stroke-width="0.08">0.2</text>
<text x="372.9" y="103.22" text-anchor="end" font-size="7.6" font-family="Liberation Serif" font-weight="bold" fill="#000" stroke="#000" stroke-width="0.08">0.4</text>
<text x="372.9" y="75.28" text-anchor="end" font-size="7.6" font-family="Liberation Serif" font-weight="bold" fill="#000" stroke="#000" stroke-width="0.08">0.6</text>
<text x="372.9" y="47.34" text-anchor="end" font-size="7.6" font-family="Liberation Serif" font-weight="bold" fill="#000" stroke="#000" stroke-width="0.08">0.8</text>
<text x="372.9" y="19.4" text-anchor="end" font-size="7.6" font-family="Liberation Serif" font-weight="bold" fill="#000" stroke="#000" stroke-width="0.08">1</text>
<text transform="translate(360.4,84.4) rotate(-90)" text-anchor="middle" font-size="7.9" font-family="Liberation Serif" font-weight="bold" stroke="#000" stroke-width="0.12">Relative Velocity Index</text>
<text x="446" y="174.8" text-anchor="middle" font-size="8.2" font-family="Liberation Serif" font-weight="bold" stroke="#000" stroke-width="0.12">DHG (µM)</text>
<path d="M376.5,16.5 C376.78,19.76 377.7,31.4 378.17,36.06 C378.63,40.71 378.82,40.48 379.28,44.44 C379.74,48.4 380.02,54.22 380.95,59.81 C381.87,65.39 383.26,72.22 384.84,77.97 C386.42,83.72 388.31,89.42 390.4,94.31 C392.49,99.2 395.03,103.65 397.35,107.3 C399.67,110.96 400.5,112.52 404.3,116.25 C408.1,119.97 415.51,126.44 420.15,129.66 C424.78,132.87 425.47,133.36 432.1,135.52 C438.73,137.69 450.63,140.97 459.9,142.65 C469.17,144.33 478.43,144.77 487.7,145.58 C496.97,146.4 510.87,147.21 515.5,147.54" fill="none" stroke="#1a1a1a" stroke-width="0.9"/>
<path d="M376.5,16.5 C377.06,19.76 378.72,28.84 379.84,36.06 C380.95,43.28 381.87,52.59 383.17,59.81 C384.47,67.02 386.42,74.01 387.62,79.36 C388.82,84.72 389.1,86.91 390.4,91.94 C391.7,96.97 393.09,103.49 395.4,109.54 C397.72,115.59 400.18,123 404.3,128.26 C408.42,133.52 415.51,138.2 420.15,141.11 C424.78,144.02 425.47,144.23 432.1,145.72 C438.73,147.21 450.63,148.87 459.9,150.05 C469.17,151.24 478.43,152.08 487.7,152.85 C496.97,153.62 510.87,154.36 515.5,154.66" fill="none" stroke="#1a1a1a" stroke-width="0.9"/>
<circle cx="379.28" cy="45.84" r="2.2" fill="#000"/>
<circle cx="383.45" cy="73.78" r="2.2" fill="#000"/>
<circle cx="390.4" cy="93.75" r="2.2" fill="#000"/>
<circle cx="404.3" cy="116.66" r="2.2" fill="#000"/>
<circle cx="432.1" cy="137.06" r="2.2" fill="#000"/>
<circle cx="515.5" cy="153.83" r="2.2" fill="#000"/>
<circle cx="376.5" cy="16.5" r="1.9" fill="#fff" stroke="#222" stroke-width="0.65"/>
<circle cx="379.28" cy="37.18" r="1.9" fill="#fff" stroke="#222" stroke-width="0.65"/>
<circle cx="383.45" cy="61.76" r="1.9" fill="#fff" stroke="#222" stroke-width="0.65"/>
<circle cx="390.4" cy="84.67" r="1.9" fill="#fff" stroke="#222" stroke-width="0.65"/>
<circle cx="404.3" cy="137.48" r="1.9" fill="#fff" stroke="#222" stroke-width="0.65"/>
<circle cx="432.1" cy="151.31" r="1.9" fill="#fff" stroke="#222" stroke-width="0.65"/>
<circle cx="515.5" cy="156.2" r="1.9" fill="#fff" stroke="#222" stroke-width="0.65"/>
<rect x="426.6" y="60.7" width="73" height="25.6" fill="#fff" stroke="#333" stroke-width="1"/>
<line x1="429.5" y1="66.8" x2="442.6" y2="66.8" stroke="#000" stroke-width="0.9"/>
<circle cx="436.1" cy="66.8" r="2.02" fill="#000"/>
<line x1="429.5" y1="79.7" x2="442.6" y2="79.7" stroke="#000" stroke-width="0.9"/>
<circle cx="436.3" cy="79.7" r="1.79" fill="#fff" stroke="#222" stroke-width="0.65"/>
<text x="444.6" y="70" font-size="7.75" font-family="Liberation Serif" font-weight="bold" stroke="#000" stroke-width="0.12">700 pM rFVIII</text>
<text x="444.6" y="83" font-size="7.75" font-family="Liberation Serif" font-weight="bold" stroke="#000" stroke-width="0.12">700 pM rFVIIIa</text>
<text transform="translate(0,199.9) scale(1.0,1)" font-size="14" font-family="Liberation Sans" font-weight="bold" stroke="#000" stroke-width="0.1">D</text>
<rect x="25.3" y="206" width="139.2" height="139.3" fill="none" stroke="#333" stroke-width="1.5"/>
<line x1="48.42" y1="345.3" x2="48.42" y2="343.3" stroke="#333" stroke-width="1"/>
<line x1="71.63" y1="345.3" x2="71.63" y2="343.3" stroke="#333" stroke-width="1"/>
<line x1="94.85" y1="345.3" x2="94.85" y2="343.3" stroke="#333" stroke-width="1"/>
<line x1="118.07" y1="345.3" x2="118.07" y2="343.3" stroke="#333" stroke-width="1"/>
<line x1="141.28" y1="345.3" x2="141.28" y2="343.3" stroke="#333" stroke-width="1"/>
<line x1="25.3" y1="316.32" x2="27.3" y2="316.32" stroke="#333" stroke-width="1"/>
<line x1="25.3" y1="288.74" x2="27.3" y2="288.74" stroke="#333" stroke-width="1"/>
<line x1="25.3" y1="261.16" x2="27.3" y2="261.16" stroke="#333" stroke-width="1"/>
<line x1="25.3" y1="233.58" x2="27.3" y2="233.58" stroke="#333" stroke-width="1"/>
<text x="25.2" y="353.9" text-anchor="middle" font-size="7.6" font-family="Liberation Serif" font-weight="bold" fill="#000" stroke="#000" stroke-width="0.08">0</text>
<text x="48.42" y="353.9" text-anchor="middle" font-size="7.6" font-family="Liberation Serif" font-weight="bold" fill="#000" stroke="#000" stroke-width="0.08">5</text>
<text x="71.63" y="353.9" text-anchor="middle" font-size="7.6" font-family="Liberation Serif" font-weight="bold" fill="#000" stroke="#000" stroke-width="0.08">10</text>
<text x="94.85" y="353.9" text-anchor="middle" font-size="7.6" font-family="Liberation Serif" font-weight="bold" fill="#000" stroke="#000" stroke-width="0.08">15</text>
<text x="118.07" y="353.9" text-anchor="middle" font-size="7.6" font-family="Liberation Serif" font-weight="bold" fill="#000" stroke="#000" stroke-width="0.08">20</text>
<text x="141.28" y="353.9" text-anchor="middle" font-size="7.6" font-family="Liberation Serif" font-weight="bold" fill="#000" stroke="#000" stroke-width="0.08">25</text>
<text x="164.5" y="353.9" text-anchor="middle" font-size="7.6" font-family="Liberation Serif" font-weight="bold" fill="#000" stroke="#000" stroke-width="0.08">30</text>
<text x="21.7" y="346.3" text-anchor="end" font-size="7.6" font-family="Liberation Serif" font-weight="bold" fill="#000" stroke="#000" stroke-width="0.08">0</text>
<text x="21.7" y="318.72" text-anchor="end" font-size="7.6" font-family="Liberation Serif" font-weight="bold" fill="#000" stroke="#000" stroke-width="0.08">100</text>
<text x="21.7" y="291.14" text-anchor="end" font-size="7.6" font-family="Liberation Serif" font-weight="bold" fill="#000" stroke="#000" stroke-width="0.08">200</text>
<text x="21.7" y="263.56" text-anchor="end" font-size="7.6" font-family="Liberation Serif" font-weight="bold" fill="#000" stroke="#000" stroke-width="0.08">300</text>
<text x="21.7" y="235.98" text-anchor="end" font-size="7.6" font-family="Liberation Serif" font-weight="bold" fill="#000" stroke="#000" stroke-width="0.08">400</text>
<text x="21.7" y="208.4" text-anchor="end" font-size="7.6" font-family="Liberation Serif" font-weight="bold" fill="#000" stroke="#000" stroke-width="0.08">500</text>
<text transform="translate(6.9,273.2) rotate(-90)" text-anchor="middle" font-size="7.7" font-family="Liberation Serif" font-weight="bold" stroke="#000" stroke-width="0.12">Thrombin (nM)</text>
<text x="91.2" y="363" text-anchor="middle" font-size="7.9" font-family="Liberation Serif" font-weight="bold" stroke="#000" stroke-width="0.12">Time (min)</text>
<path d="M25.2,343.9 C48.42,343.9 141.28,343.9 164.5,343.9" fill="none" stroke="#444" stroke-width="0.9"/>
<path d="M94.85,343.49 C96.4,343.37 101.04,343.14 104.14,342.8 C107.23,342.45 110.33,341.79 113.42,341.42 C116.52,341.05 119.61,340.77 122.71,340.59 C125.81,340.41 128.9,340.36 132,340.31 C135.09,340.27 138.19,340.29 141.28,340.31 C144.38,340.34 147.47,340.41 150.57,340.45 C153.67,340.5 157.53,340.57 159.86,340.59 C162.18,340.61 163.73,340.59 164.5,340.59" fill="none" stroke="#1a1a1a" stroke-width="0.9"/>
<path d="M34.49,343.76 C35.26,343.56 37.58,343.42 39.13,342.52 C40.68,341.62 42.23,340.45 43.77,338.38 C45.32,336.32 46.09,336.18 48.42,330.11 C50.74,324.04 55.38,308.69 57.7,301.98 C60.02,295.27 60.8,293.52 62.35,289.84 C63.89,286.17 65.75,282.07 66.99,279.91 C68.23,277.75 68.77,277.48 69.78,276.88 C70.78,276.28 71.94,275.55 73.03,276.33 C74.11,277.11 74.19,277.94 76.28,281.57 C78.37,285.2 82.47,292.46 85.56,298.12 C88.66,303.77 91.75,310.99 94.85,315.49 C97.95,320 101.04,322.62 104.14,325.15 C107.23,327.67 110.33,329.1 113.42,330.66 C116.52,332.22 119.61,333.42 122.71,334.52 C125.81,335.63 128.9,336.55 132,337.28 C135.09,338.02 138.19,338.52 141.28,338.94 C144.38,339.35 147.47,339.53 150.57,339.76 C153.67,339.99 157.53,340.18 159.86,340.31 C162.18,340.45 163.73,340.54 164.5,340.59" fill="none" stroke="#1a1a1a" stroke-width="0.9"/>
<path d="M34.49,343.62 C35.26,342.75 37.58,341.56 39.13,338.38 C40.68,335.21 42.23,330.71 43.77,324.59 C45.32,318.48 46.09,311.82 48.42,301.7 C50.74,291.59 55.69,270.54 57.7,263.92 C59.72,257.3 59.56,261.76 60.49,261.99 C61.42,262.22 62.19,263.32 63.28,265.3 C64.36,267.27 64.82,268.01 66.99,273.85 C69.16,279.68 73.18,293.24 76.28,300.32 C79.37,307.4 82.47,312.37 85.56,316.32 C88.66,320.27 91.75,321.84 94.85,324.04 C97.95,326.25 101.04,328 104.14,329.56 C107.23,331.12 110.33,332.32 113.42,333.42 C116.52,334.52 119.61,335.44 122.71,336.18 C125.81,336.91 128.9,337.37 132,337.83 C135.09,338.29 138.19,338.66 141.28,338.94 C144.38,339.21 147.47,339.3 150.57,339.49 C153.67,339.67 157.53,339.9 159.86,340.04 C162.18,340.18 163.73,340.27 164.5,340.31" fill="none" stroke="#1a1a1a" stroke-width="0.9"/>
<path d="M36.81,343.76 C37.2,343.6 38.24,346.73 39.13,342.8 C40.02,338.87 41.1,329.88 42.15,320.18 C43.19,310.48 44.35,296.19 45.4,284.6 C46.44,273.02 47.12,259.55 48.42,250.68 C49.71,241.81 51.61,232.2 53.15,231.37 C54.7,230.55 56.17,240.06 57.7,245.72 C59.24,251.37 60.8,259.05 62.35,265.3 C63.89,271.55 64.67,276.56 66.99,283.22 C69.31,289.89 73.18,299.4 76.28,305.29 C79.37,311.17 82.47,314.94 85.56,318.53 C88.66,322.11 91.75,324.59 94.85,326.8 C97.95,329.01 101.04,330.43 104.14,331.76 C107.23,333.1 110.33,333.97 113.42,334.8 C116.52,335.63 119.61,336.13 122.71,336.73 C125.81,337.33 128.9,337.97 132,338.38 C135.09,338.8 138.19,338.98 141.28,339.21 C144.38,339.44 147.47,339.58 150.57,339.76 C153.67,339.95 157.53,340.18 159.86,340.31 C162.18,340.45 163.73,340.54 164.5,340.59" fill="none" stroke="#1a1a1a" stroke-width="0.9"/>
<path d="M36.81,343.76 C37.12,343.6 37.84,346.73 38.67,342.8 C39.49,338.87 40.69,330.11 41.78,320.18 C42.86,310.25 44.06,295.41 45.17,283.22 C46.27,271.04 47.03,258.36 48.42,247.09 C49.8,235.83 51.93,218.41 53.48,215.65 C55.03,212.89 56.23,223.42 57.7,230.55 C59.18,237.67 60.8,250.17 62.35,258.4 C63.89,266.63 64.67,271.69 66.99,279.91 C69.31,288.14 73.18,301.15 76.28,307.77 C79.37,314.39 82.47,316.27 85.56,319.63 C88.66,322.99 91.75,325.79 94.85,327.9 C97.95,330.02 101.04,331.12 104.14,332.32 C107.23,333.51 110.33,334.29 113.42,335.07 C116.52,335.86 119.61,336.45 122.71,337 C125.81,337.56 128.9,338.02 132,338.38 C135.09,338.75 138.19,338.98 141.28,339.21 C144.38,339.44 147.47,339.58 150.57,339.76 C153.67,339.95 157.53,340.18 159.86,340.31 C162.18,340.45 163.73,340.54 164.5,340.59" fill="none" stroke="#1a1a1a" stroke-width="0.9"/>
<circle cx="29.84" cy="343.9" r="1.9" fill="#fff" stroke="#222" stroke-width="0.65"/>
<polygon points="39.13,346.14 41.62,341.98 36.64,341.98" fill="#fff" stroke="#555" stroke-width="0.65"/>
<polygon points="48.42,346.14 50.91,341.98 45.92,341.98" fill="#fff" stroke="#555" stroke-width="0.65"/>
<polygon points="57.7,346.14 60.2,341.98 55.21,341.98" fill="#fff" stroke="#555" stroke-width="0.65"/>
<polygon points="66.99,346.14 69.48,341.98 64.5,341.98" fill="#fff" stroke="#555" stroke-width="0.65"/>
<polygon points="76.28,346.14 78.77,341.98 73.78,341.98" fill="#fff" stroke="#555" stroke-width="0.65"/>
<polygon points="85.56,346.14 88.06,341.98 83.07,341.98" fill="#fff" stroke="#555" stroke-width="0.65"/>
<polygon points="94.85,346.14 97.34,341.98 92.36,341.98" fill="#fff" stroke="#555" stroke-width="0.65"/>
<polygon points="104.14,346.14 106.63,341.98 101.64,341.98" fill="#fff" stroke="#555" stroke-width="0.65"/>
<polygon points="113.42,346.14 115.92,341.98 110.93,341.98" fill="#fff" stroke="#555" stroke-width="0.65"/>
<polygon points="122.71,346.14 125.2,341.98 120.22,341.98" fill="#fff" stroke="#555" stroke-width="0.65"/>
<polygon points="132,346.14 134.49,341.98 129.5,341.98" fill="#fff" stroke="#555" stroke-width="0.65"/>
<polygon points="141.28,346.14 143.78,341.98 138.79,341.98" fill="#fff" stroke="#555" stroke-width="0.65"/>
<polygon points="150.57,346.14 153.06,341.98 148.08,341.98" fill="#fff" stroke="#555" stroke-width="0.65"/>
<polygon points="159.86,346.14 162.35,341.98 157.36,341.98" fill="#fff" stroke="#555" stroke-width="0.65"/>
<circle cx="113.42" cy="341.42" r="2.2" fill="#000"/>
<circle cx="122.71" cy="340.59" r="2.2" fill="#000"/>
<circle cx="132" cy="340.31" r="2.2" fill="#000"/>
<circle cx="141.28" cy="340.31" r="2.2" fill="#000"/>
<circle cx="150.57" cy="340.45" r="2.2" fill="#000"/>
<circle cx="159.86" cy="340.59" r="2.2" fill="#000"/>
<polygon points="39.13,340.02 41.76,344.4 36.51,344.4" fill="#000"/>
<polygon points="48.42,327.61 51.04,331.98 45.79,331.98" fill="#000"/>
<polygon points="57.7,299.48 60.33,303.85 55.08,303.85" fill="#000"/>
<polygon points="76.28,279.07 78.9,283.44 73.65,283.44" fill="#000"/>
<polygon points="85.56,295.62 88.19,299.99 82.94,299.99" fill="#000"/>
<polygon points="94.85,312.99 97.48,317.37 92.23,317.37" fill="#000"/>
<polygon points="104.14,322.65 106.76,327.02 101.51,327.02" fill="#000"/>
<polygon points="113.42,328.16 116.05,332.54 110.8,332.54" fill="#000"/>
<polygon points="122.71,332.02 125.34,336.4 120.09,336.4" fill="#000"/>
<polygon points="132,334.78 134.62,339.16 129.37,339.16" fill="#000"/>
<polygon points="141.28,336.44 143.91,340.81 138.66,340.81" fill="#000"/>
<polygon points="150.57,337.26 153.2,341.64 147.95,341.64" fill="#000"/>
<polygon points="159.86,337.81 162.48,342.19 157.23,342.19" fill="#000"/>
<rect x="27.89" y="341.95" width="3.9" height="3.9" fill="#fff" stroke="#222" stroke-width="0.65"/>
<rect x="37.18" y="336.43" width="3.9" height="3.9" fill="#fff" stroke="#222" stroke-width="0.65"/>
<rect x="46.47" y="299.75" width="3.9" height="3.9" fill="#fff" stroke="#222" stroke-width="0.65"/>
<rect x="55.75" y="261.97" width="3.9" height="3.9" fill="#fff" stroke="#222" stroke-width="0.65"/>
<rect x="65.04" y="271.9" width="3.9" height="3.9" fill="#fff" stroke="#222" stroke-width="0.65"/>
<rect x="74.33" y="298.37" width="3.9" height="3.9" fill="#fff" stroke="#222" stroke-width="0.65"/>
<rect x="83.61" y="314.37" width="3.9" height="3.9" fill="#fff" stroke="#222" stroke-width="0.65"/>
<rect x="92.9" y="322.09" width="3.9" height="3.9" fill="#fff" stroke="#222" stroke-width="0.65"/>
<rect x="102.19" y="327.61" width="3.9" height="3.9" fill="#fff" stroke="#222" stroke-width="0.65"/>
<rect x="111.47" y="331.47" width="3.9" height="3.9" fill="#fff" stroke="#222" stroke-width="0.65"/>
<rect x="120.76" y="334.23" width="3.9" height="3.9" fill="#fff" stroke="#222" stroke-width="0.65"/>
<rect x="130.05" y="335.88" width="3.9" height="3.9" fill="#fff" stroke="#222" stroke-width="0.65"/>
<rect x="139.33" y="336.99" width="3.9" height="3.9" fill="#fff" stroke="#222" stroke-width="0.65"/>
<rect x="148.62" y="337.54" width="3.9" height="3.9" fill="#fff" stroke="#222" stroke-width="0.65"/>
<rect x="157.91" y="338.09" width="3.9" height="3.9" fill="#fff" stroke="#222" stroke-width="0.65"/>
<circle cx="48.42" cy="250.68" r="1.9" fill="#fff" stroke="#222" stroke-width="0.65"/>
<circle cx="57.7" cy="245.72" r="1.9" fill="#fff" stroke="#222" stroke-width="0.65"/>
<circle cx="66.99" cy="283.22" r="1.9" fill="#fff" stroke="#222" stroke-width="0.65"/>
<circle cx="76.28" cy="305.29" r="1.9" fill="#fff" stroke="#222" stroke-width="0.65"/>
<circle cx="85.56" cy="318.53" r="1.9" fill="#fff" stroke="#222" stroke-width="0.65"/>
<circle cx="94.85" cy="326.8" r="1.9" fill="#fff" stroke="#222" stroke-width="0.65"/>
<circle cx="104.14" cy="331.76" r="1.9" fill="#fff" stroke="#222" stroke-width="0.65"/>
<circle cx="113.42" cy="334.8" r="1.9" fill="#fff" stroke="#222" stroke-width="0.65"/>
<circle cx="122.71" cy="336.73" r="1.9" fill="#fff" stroke="#222" stroke-width="0.65"/>
<circle cx="132" cy="338.38" r="1.9" fill="#fff" stroke="#222" stroke-width="0.65"/>
<circle cx="141.28" cy="339.21" r="1.9" fill="#fff" stroke="#222" stroke-width="0.65"/>
<circle cx="150.57" cy="339.76" r="1.9" fill="#fff" stroke="#222" stroke-width="0.65"/>
<circle cx="159.86" cy="340.31" r="1.9" fill="#fff" stroke="#222" stroke-width="0.65"/>
<circle cx="48.42" cy="247.09" r="2.2" fill="#000"/>
<circle cx="57.7" cy="230.55" r="2.2" fill="#000"/>
<circle cx="66.99" cy="279.91" r="2.2" fill="#000"/>
<circle cx="76.28" cy="307.77" r="2.2" fill="#000"/>
<circle cx="85.56" cy="319.63" r="2.2" fill="#000"/>
<circle cx="94.85" cy="327.9" r="2.2" fill="#000"/>
<circle cx="104.14" cy="332.32" r="2.2" fill="#000"/>
<circle cx="113.42" cy="335.07" r="2.2" fill="#000"/>
<circle cx="122.71" cy="337" r="2.2" fill="#000"/>
<circle cx="132" cy="338.38" r="2.2" fill="#000"/>
<circle cx="141.28" cy="339.21" r="2.2" fill="#000"/>
<circle cx="150.57" cy="339.76" r="2.2" fill="#000"/>
<circle cx="159.86" cy="340.31" r="2.2" fill="#000"/>
<text transform="translate(178,199.9) scale(1.0,1)" font-size="14" font-family="Liberation Sans" font-weight="bold" stroke="#000" stroke-width="0.1">E</text>
<rect x="203.8" y="206.1" width="138.7" height="139.3" fill="none" stroke="#333" stroke-width="1.5"/>
<line x1="226.9" y1="345.4" x2="226.9" y2="343.4" stroke="#333" stroke-width="1"/>
<line x1="250" y1="345.4" x2="250" y2="343.4" stroke="#333" stroke-width="1"/>
<line x1="273.1" y1="345.4" x2="273.1" y2="343.4" stroke="#333" stroke-width="1"/>
<line x1="296.2" y1="345.4" x2="296.2" y2="343.4" stroke="#333" stroke-width="1"/>
<line x1="319.3" y1="345.4" x2="319.3" y2="343.4" stroke="#333" stroke-width="1"/>
<line x1="203.8" y1="316.34" x2="205.8" y2="316.34" stroke="#333" stroke-width="1"/>
<line x1="203.8" y1="288.78" x2="205.8" y2="288.78" stroke="#333" stroke-width="1"/>
<line x1="203.8" y1="261.22" x2="205.8" y2="261.22" stroke="#333" stroke-width="1"/>
<line x1="203.8" y1="233.66" x2="205.8" y2="233.66" stroke="#333" stroke-width="1"/>
<text x="203.8" y="353.9" text-anchor="middle" font-size="7.6" font-family="Liberation Serif" font-weight="bold" fill="#000" stroke="#000" stroke-width="0.08">0</text>
<text x="226.9" y="353.9" text-anchor="middle" font-size="7.6" font-family="Liberation Serif" font-weight="bold" fill="#000" stroke="#000" stroke-width="0.08">5</text>
<text x="250" y="353.9" text-anchor="middle" font-size="7.6" font-family="Liberation Serif" font-weight="bold" fill="#000" stroke="#000" stroke-width="0.08">10</text>
<text x="273.1" y="353.9" text-anchor="middle" font-size="7.6" font-family="Liberation Serif" font-weight="bold" fill="#000" stroke="#000" stroke-width="0.08">15</text>
<text x="296.2" y="353.9" text-anchor="middle" font-size="7.6" font-family="Liberation Serif" font-weight="bold" fill="#000" stroke="#000" stroke-width="0.08">20</text>
<text x="319.3" y="353.9" text-anchor="middle" font-size="7.6" font-family="Liberation Serif" font-weight="bold" fill="#000" stroke="#000" stroke-width="0.08">25</text>
<text x="342.4" y="353.9" text-anchor="middle" font-size="7.6" font-family="Liberation Serif" font-weight="bold" fill="#000" stroke="#000" stroke-width="0.08">30</text>
<text x="200.2" y="346.3" text-anchor="end" font-size="7.6" font-family="Liberation Serif" font-weight="bold" fill="#000" stroke="#000" stroke-width="0.08">0</text>
<text x="200.2" y="318.74" text-anchor="end" font-size="7.6" font-family="Liberation Serif" font-weight="bold" fill="#000" stroke="#000" stroke-width="0.08">100</text>
<text x="200.2" y="291.18" text-anchor="end" font-size="7.6" font-family="Liberation Serif" font-weight="bold" fill="#000" stroke="#000" stroke-width="0.08">200</text>
<text x="200.2" y="263.62" text-anchor="end" font-size="7.6" font-family="Liberation Serif" font-weight="bold" fill="#000" stroke="#000" stroke-width="0.08">300</text>
<text x="200.2" y="236.06" text-anchor="end" font-size="7.6" font-family="Liberation Serif" font-weight="bold" fill="#000" stroke="#000" stroke-width="0.08">400</text>
<text x="200.2" y="208.5" text-anchor="end" font-size="7.6" font-family="Liberation Serif" font-weight="bold" fill="#000" stroke="#000" stroke-width="0.08">500</text>
<text transform="translate(185.3,273.2) rotate(-90)" text-anchor="middle" font-size="7.7" font-family="Liberation Serif" font-weight="bold" stroke="#000" stroke-width="0.12">Thrombin (nM)</text>
<text x="269.6" y="363" text-anchor="middle" font-size="7.9" font-family="Liberation Serif" font-weight="bold" stroke="#000" stroke-width="0.12">Time (min)</text>
<path d="M203.8,343.9 C226.9,343.9 319.3,343.9 342.4,343.9" fill="none" stroke="#555" stroke-width="0.9"/>
<path d="M291.58,343.62 C293.12,343.53 297.74,343.39 300.82,343.07 C303.9,342.75 306.98,342.29 310.06,341.7 C313.14,341.1 316.22,340.23 319.3,339.49 C322.38,338.76 325.46,337.7 328.54,337.29 C331.62,336.87 335.47,337.06 337.78,337.01 C340.09,336.96 341.63,337.01 342.4,337.01" fill="none" stroke="#1a1a1a" stroke-width="0.9"/>
<path d="M273.1,343.76 C276.18,343.69 286.96,343.56 291.58,343.35 C296.2,343.14 297.74,342.84 300.82,342.52 C303.9,342.2 306.98,341.88 310.06,341.42 C313.14,340.96 316.22,340 319.3,339.77 C322.38,339.54 325.46,339.95 328.54,340.04 C331.62,340.13 335.47,340.27 337.78,340.32 C340.09,340.36 341.63,340.32 342.4,340.32" fill="none" stroke="#1a1a1a" stroke-width="0.9"/>
<path d="M237.53,343.9 C237.91,343.72 239.07,343.39 239.84,342.8 C240.61,342.2 241.18,343.21 242.15,340.32 C243.12,337.42 244.35,331.73 245.66,325.43 C246.97,319.14 248.51,309.68 250,302.56 C251.49,295.44 253.08,287.26 254.62,282.72 C256.16,278.17 257.7,275.14 259.24,275.28 C260.78,275.41 261.55,278.49 263.86,283.54 C266.17,288.6 270.02,299.21 273.1,305.59 C276.18,311.98 279.26,317.95 282.34,321.85 C285.42,325.76 288.5,326.86 291.58,329.02 C294.66,331.18 297.74,333.61 300.82,334.81 C303.9,336 306.98,335.68 310.06,336.18 C313.14,336.69 316.22,337.38 319.3,337.84 C322.38,338.3 325.46,338.62 328.54,338.94 C331.62,339.26 335.47,339.58 337.78,339.77 C340.09,339.95 341.63,340 342.4,340.04" fill="none" stroke="#1a1a1a" stroke-width="0.9"/>
<path d="M237.06,343.9 C237.37,343.53 238.3,342.98 238.91,341.7 C239.53,340.41 239.74,340.82 240.76,336.18 C241.78,331.54 243.52,323.6 245.06,313.86 C246.6,304.12 248.41,288.32 250,277.76 C251.59,267.19 253.54,255.16 254.62,250.47 C255.7,245.79 255.7,247.85 256.47,249.64 C257.24,251.44 258.01,256.53 259.24,261.22 C260.47,265.91 261.55,270.77 263.86,277.76 C266.17,284.74 270.02,296.13 273.1,303.11 C276.18,310.09 279.26,315.51 282.34,319.65 C285.42,323.78 288.5,325.62 291.58,327.92 C294.66,330.21 297.74,332.05 300.82,333.43 C303.9,334.81 306.98,335.45 310.06,336.18 C313.14,336.92 316.22,337.38 319.3,337.84 C322.38,338.3 325.46,338.62 328.54,338.94 C331.62,339.26 335.47,339.58 337.78,339.77 C340.09,339.95 341.63,340 342.4,340.04" fill="none" stroke="#1a1a1a" stroke-width="0.9"/>
<path d="M236.6,343.9 C236.79,343.53 237.37,342.98 237.76,341.7 C238.14,340.41 238.1,343.9 238.91,336.18 C239.72,328.47 241.53,305.78 242.61,295.39 C243.69,285.01 244.46,281.89 245.38,273.9 C246.3,265.91 247.3,253.92 248.15,247.44 C249,240.96 249.69,236.88 250.46,235.04 C251.23,233.2 252.08,235.18 252.77,236.42 C253.47,237.66 253.54,237.89 254.62,242.48 C255.7,247.07 257.7,257.41 259.24,263.98 C260.78,270.54 261.55,274.77 263.86,281.89 C266.17,289.01 270.02,300.03 273.1,306.69 C276.18,313.35 279.26,318.04 282.34,321.85 C285.42,325.66 288.5,327.55 291.58,329.57 C294.66,331.59 297.74,332.83 300.82,333.98 C303.9,335.13 306.98,335.77 310.06,336.46 C313.14,337.15 316.22,337.65 319.3,338.11 C322.38,338.57 325.46,338.94 328.54,339.21 C331.62,339.49 335.47,339.63 337.78,339.77 C340.09,339.9 341.63,340 342.4,340.04" fill="none" stroke="#1a1a1a" stroke-width="0.9"/>
<path d="M234.75,343.9 C234.91,343.53 235.37,342.98 235.68,341.7 C235.99,340.41 235.83,343.9 236.6,336.18 C237.37,328.47 238.84,311.7 240.3,295.39 C241.76,279.09 244.26,250.1 245.38,238.35 C246.5,226.59 246.42,227.83 247,224.84 C247.57,221.86 248.23,220.25 248.84,220.43 C249.46,220.61 249.73,220.98 250.69,225.94 C251.66,230.9 253.2,241.79 254.62,250.2 C256.04,258.6 257.7,268.62 259.24,276.38 C260.78,284.14 261.55,289.88 263.86,296.77 C266.17,303.66 270.02,312.53 273.1,317.72 C276.18,322.91 279.26,325.39 282.34,327.92 C285.42,330.44 288.5,331.59 291.58,332.88 C294.66,334.16 297.74,334.85 300.82,335.63 C303.9,336.41 306.98,337.06 310.06,337.56 C313.14,338.07 316.22,338.34 319.3,338.66 C322.38,338.99 325.46,339.26 328.54,339.49 C331.62,339.72 335.47,339.9 337.78,340.04 C340.09,340.18 341.63,340.27 342.4,340.32" fill="none" stroke="#1a1a1a" stroke-width="0.9"/>
<polygon points="208.42,346.4 211.36,341.5 205.48,341.5" fill="#000"/>
<polygon points="217.66,346.4 220.6,341.5 214.72,341.5" fill="#000"/>
<polygon points="226.9,346.4 229.84,341.5 223.96,341.5" fill="#000"/>
<polygon points="236.14,346.4 239.08,341.5 233.2,341.5" fill="#000"/>
<polygon points="245.38,346.4 248.32,341.5 242.44,341.5" fill="#000"/>
<polygon points="254.62,346.4 257.56,341.5 251.68,341.5" fill="#000"/>
<polygon points="263.86,346.4 266.8,341.5 260.92,341.5" fill="#000"/>
<polygon points="273.1,346.4 276.04,341.5 270.16,341.5" fill="#000"/>
<polygon points="282.34,346.4 285.28,341.5 279.4,341.5" fill="#000"/>
<polygon points="291.58,346.4 294.52,341.5 288.64,341.5" fill="#000"/>
<polygon points="300.82,346.4 303.76,341.5 297.88,341.5" fill="#000"/>
<polygon points="310.06,346.4 313,341.5 307.12,341.5" fill="#000"/>
<polygon points="319.3,346.4 322.24,341.5 316.36,341.5" fill="#000"/>
<polygon points="328.54,346.4 331.48,341.5 325.6,341.5" fill="#000"/>
<polygon points="337.78,346.4 340.72,341.5 334.84,341.5" fill="#000"/>
<circle cx="245.38" cy="238.35" r="2.2" fill="#000"/>
<circle cx="254.62" cy="250.2" r="2.2" fill="#000"/>
<circle cx="263.86" cy="296.77" r="2.2" fill="#000"/>
<circle cx="273.1" cy="317.72" r="2.2" fill="#000"/>
<circle cx="282.34" cy="327.92" r="2.2" fill="#000"/>
<circle cx="291.58" cy="332.88" r="2.2" fill="#000"/>
<circle cx="300.82" cy="335.63" r="2.2" fill="#000"/>
<circle cx="310.06" cy="337.56" r="2.2" fill="#000"/>
<circle cx="319.3" cy="338.66" r="2.2" fill="#000"/>
<circle cx="328.54" cy="339.49" r="2.2" fill="#000"/>
<circle cx="337.78" cy="340.04" r="2.2" fill="#000"/>
<circle cx="245.38" cy="273.9" r="1.9" fill="#fff" stroke="#222" stroke-width="0.65"/>
<circle cx="254.62" cy="242.48" r="1.9" fill="#fff" stroke="#222" stroke-width="0.65"/>
<circle cx="263.86" cy="281.89" r="1.9" fill="#fff" stroke="#222" stroke-width="0.65"/>
<circle cx="273.1" cy="306.69" r="1.9" fill="#fff" stroke="#222" stroke-width="0.65"/>
<circle cx="282.34" cy="321.85" r="1.9" fill="#fff" stroke="#222" stroke-width="0.65"/>
<circle cx="291.58" cy="329.57" r="1.9" fill="#fff" stroke="#222" stroke-width="0.65"/>
<circle cx="300.82" cy="333.98" r="1.9" fill="#fff" stroke="#222" stroke-width="0.65"/>
<circle cx="310.06" cy="336.46" r="1.9" fill="#fff" stroke="#222" stroke-width="0.65"/>
<circle cx="319.3" cy="338.11" r="1.9" fill="#fff" stroke="#222" stroke-width="0.65"/>
<circle cx="328.54" cy="339.21" r="1.9" fill="#fff" stroke="#222" stroke-width="0.65"/>
<circle cx="337.78" cy="339.77" r="1.9" fill="#fff" stroke="#222" stroke-width="0.65"/>
<circle cx="300.82" cy="342.52" r="2.2" fill="#000"/>
<circle cx="310.06" cy="341.42" r="2.2" fill="#000"/>
<circle cx="319.3" cy="339.77" r="1.9" fill="#fff" stroke="#222" stroke-width="0.65"/>
<circle cx="328.54" cy="340.04" r="1.9" fill="#fff" stroke="#222" stroke-width="0.65"/>
<circle cx="337.78" cy="340.32" r="1.9" fill="#fff" stroke="#222" stroke-width="0.65"/>
<rect x="242.81" y="311.61" width="4.5" height="4.5" fill="#000"/>
<rect x="252.37" y="248.22" width="4.5" height="4.5" fill="#000"/>
<rect x="261.61" y="275.51" width="4.5" height="4.5" fill="#000"/>
<rect x="270.85" y="300.86" width="4.5" height="4.5" fill="#000"/>
<rect x="280.09" y="317.4" width="4.5" height="4.5" fill="#000"/>
<rect x="289.33" y="325.67" width="4.5" height="4.5" fill="#000"/>
<rect x="298.57" y="331.18" width="4.5" height="4.5" fill="#000"/>
<rect x="307.81" y="333.93" width="4.5" height="4.5" fill="#000"/>
<rect x="317.05" y="335.59" width="4.5" height="4.5" fill="#000"/>
<rect x="326.29" y="336.69" width="4.5" height="4.5" fill="#000"/>
<rect x="335.53" y="337.52" width="4.5" height="4.5" fill="#000"/>
<rect x="243.71" y="323.48" width="3.9" height="3.9" fill="#fff" stroke="#222" stroke-width="0.65"/>
<rect x="252.67" y="280.77" width="3.9" height="3.9" fill="#fff" stroke="#222" stroke-width="0.65"/>
<rect x="261.91" y="281.59" width="3.9" height="3.9" fill="#fff" stroke="#222" stroke-width="0.65"/>
<rect x="271.15" y="303.64" width="3.9" height="3.9" fill="#fff" stroke="#222" stroke-width="0.65"/>
<rect x="280.39" y="319.9" width="3.9" height="3.9" fill="#fff" stroke="#222" stroke-width="0.65"/>
<rect x="289.63" y="327.07" width="3.9" height="3.9" fill="#fff" stroke="#222" stroke-width="0.65"/>
<rect x="298.87" y="332.86" width="3.9" height="3.9" fill="#fff" stroke="#222" stroke-width="0.65"/>
<rect x="308.11" y="334.23" width="3.9" height="3.9" fill="#fff" stroke="#222" stroke-width="0.65"/>
<rect x="317.35" y="335.89" width="3.9" height="3.9" fill="#fff" stroke="#222" stroke-width="0.65"/>
<rect x="326.59" y="336.99" width="3.9" height="3.9" fill="#fff" stroke="#222" stroke-width="0.65"/>
<rect x="335.83" y="337.82" width="3.9" height="3.9" fill="#fff" stroke="#222" stroke-width="0.65"/>
<polygon points="254.62,249.9 257.25,254.28 252,254.28" fill="#000"/>
<polygon points="319.3,336.99 321.92,341.37 316.67,341.37" fill="#000"/>
<polygon points="328.54,334.79 331.16,339.16 325.91,339.16" fill="#000"/>
<polygon points="337.78,334.51 340.4,338.88 335.15,338.88" fill="#000"/>
<text transform="translate(353.4,199.9) scale(1.0,1)" font-size="14" font-family="Liberation Sans" font-weight="bold" stroke="#000" stroke-width="0.1">F</text>
<rect x="376.5" y="205.6" width="139.1" height="139.6" fill="none" stroke="#333" stroke-width="1.5"/>
<line x1="404.32" y1="345.2" x2="404.32" y2="343.2" stroke="#333" stroke-width="1"/>
<line x1="432.14" y1="345.2" x2="432.14" y2="343.2" stroke="#333" stroke-width="1"/>
<line x1="459.96" y1="345.2" x2="459.96" y2="343.2" stroke="#333" stroke-width="1"/>
<line x1="487.78" y1="345.2" x2="487.78" y2="343.2" stroke="#333" stroke-width="1"/>
<line x1="376.5" y1="317.28" x2="378.5" y2="317.28" stroke="#333" stroke-width="1"/>
<line x1="376.5" y1="289.36" x2="378.5" y2="289.36" stroke="#333" stroke-width="1"/>
<line x1="376.5" y1="261.44" x2="378.5" y2="261.44" stroke="#333" stroke-width="1"/>
<line x1="376.5" y1="233.52" x2="378.5" y2="233.52" stroke="#333" stroke-width="1"/>
<text x="376.5" y="355.4" text-anchor="middle" font-size="7.6" font-family="Liberation Serif" font-weight="bold" fill="#000" stroke="#000" stroke-width="0.08">0</text>
<text x="404.32" y="355.4" text-anchor="middle" font-size="7.6" font-family="Liberation Serif" font-weight="bold" fill="#000" stroke="#000" stroke-width="0.08">2</text>
<text x="432.14" y="355.4" text-anchor="middle" font-size="7.6" font-family="Liberation Serif" font-weight="bold" fill="#000" stroke="#000" stroke-width="0.08">4</text>
<text x="459.96" y="355.4" text-anchor="middle" font-size="7.6" font-family="Liberation Serif" font-weight="bold" fill="#000" stroke="#000" stroke-width="0.08">6</text>
<text x="487.78" y="355.4" text-anchor="middle" font-size="7.6" font-family="Liberation Serif" font-weight="bold" fill="#000" stroke="#000" stroke-width="0.08">8</text>
<text x="515.6" y="355.4" text-anchor="middle" font-size="7.6" font-family="Liberation Serif" font-weight="bold" fill="#000" stroke="#000" stroke-width="0.08">10</text>
<text x="372.9" y="348.6" text-anchor="end" font-size="7.6" font-family="Liberation Serif" font-weight="bold" fill="#000" stroke="#000" stroke-width="0.08">0</text>
<text x="372.9" y="320.68" text-anchor="end" font-size="7.6" font-family="Liberation Serif" font-weight="bold" fill="#000" stroke="#000" stroke-width="0.08">0.2</text>
<text x="372.9" y="292.76" text-anchor="end" font-size="7.6" font-family="Liberation Serif" font-weight="bold" fill="#000" stroke="#000" stroke-width="0.08">0.4</text>
<text x="372.9" y="264.84" text-anchor="end" font-size="7.6" font-family="Liberation Serif" font-weight="bold" fill="#000" stroke="#000" stroke-width="0.08">0.6</text>
<text x="372.9" y="236.92" text-anchor="end" font-size="7.6" font-family="Liberation Serif" font-weight="bold" fill="#000" stroke="#000" stroke-width="0.08">0.8</text>
<text x="372.9" y="209" text-anchor="end" font-size="7.6" font-family="Liberation Serif" font-weight="bold" fill="#000" stroke="#000" stroke-width="0.08">1</text>
<text transform="translate(360.4,273.2) rotate(-90)" text-anchor="middle" font-size="7.9" font-family="Liberation Serif" font-weight="bold" stroke="#000" stroke-width="0.12">Relative Velocity Index</text>
<text x="446" y="363.5" text-anchor="middle" font-size="8.2" font-family="Liberation Serif" font-weight="bold" stroke="#000" stroke-width="0.12">DHG (µM)</text>
<path d="M376.5,205.6 C376.73,208.16 377.31,212.46 377.89,220.96 C378.47,229.45 379.42,248.41 379.98,256.55 C380.53,264.7 380.7,263.88 381.23,269.82 C381.76,275.75 382.27,285.4 383.18,292.15 C384.08,298.9 385.45,305.65 386.65,310.3 C387.86,314.95 388.9,317.12 390.41,320.07 C391.92,323.03 393.84,325.84 395.7,328.03 C397.55,330.22 399.59,331.82 401.54,333.19 C403.49,334.57 405.48,335.43 407.38,336.27 C409.28,337.1 410.14,337.45 412.94,338.22 C415.75,338.99 418.69,340.13 424.21,340.87 C429.73,341.62 437.77,342.2 446.05,342.69 C454.33,343.18 462.28,343.5 473.87,343.8 C485.46,344.11 508.65,344.39 515.6,344.5" fill="none" stroke="#1a1a1a" stroke-width="0.9"/>
<path d="M376.5,205.6 C376.73,207.69 377.31,209.9 377.89,218.16 C378.47,226.42 379.42,246.55 379.98,255.16 C380.53,263.77 380.7,263.65 381.23,269.82 C381.76,275.98 382.47,285.33 383.18,292.15 C383.88,298.97 384.73,305.72 385.47,310.72 C386.21,315.72 386.67,318.72 387.63,322.17 C388.59,325.61 389.9,328.98 391.24,331.38 C392.59,333.78 393.98,335.2 395.7,336.54 C397.41,337.89 399.59,338.71 401.54,339.48 C403.49,340.24 403.6,340.57 407.38,341.15 C411.16,341.73 417.77,342.5 424.21,342.97 C430.66,343.43 437.77,343.69 446.05,343.94 C454.33,344.2 462.28,344.34 473.87,344.5 C485.46,344.66 508.65,344.85 515.6,344.92" fill="none" stroke="#1a1a1a" stroke-width="0.9"/>
<circle cx="377.89" cy="222.35" r="2.2" fill="#000"/>
<circle cx="383.45" cy="293.97" r="2.2" fill="#000"/>
<circle cx="390.41" cy="318.4" r="2.2" fill="#000"/>
<circle cx="411.27" cy="345.2" r="2.2" fill="#000"/>
<circle cx="446.05" cy="345.2" r="2.2" fill="#000"/>
<circle cx="515.6" cy="345.2" r="2.2" fill="#000"/>
<circle cx="376.5" cy="205.6" r="1.9" fill="#fff" stroke="#222" stroke-width="0.65"/>
<circle cx="377.89" cy="217.61" r="1.9" fill="#fff" stroke="#222" stroke-width="0.65"/>
<circle cx="379.98" cy="255.58" r="1.9" fill="#fff" stroke="#222" stroke-width="0.65"/>
<circle cx="383.45" cy="287.41" r="1.9" fill="#fff" stroke="#222" stroke-width="0.65"/>
<circle cx="390.41" cy="344.22" r="1.9" fill="#fff" stroke="#222" stroke-width="0.65"/>
<circle cx="411.27" cy="345.2" r="1.9" fill="#fff" stroke="#222" stroke-width="0.65"/>
<circle cx="446.05" cy="345.2" r="1.9" fill="#fff" stroke="#222" stroke-width="0.65"/>
<circle cx="515.6" cy="345.2" r="1.9" fill="#fff" stroke="#222" stroke-width="0.65"/>
<rect x="408.6" y="252.4" width="67" height="25.6" fill="#fff" stroke="#333" stroke-width="1"/>
<line x1="412" y1="259.4" x2="424.5" y2="259.4" stroke="#000" stroke-width="0.9"/>
<circle cx="418.5" cy="259.4" r="2.02" fill="#000"/>
<line x1="412" y1="272.4" x2="424.5" y2="272.4" stroke="#000" stroke-width="0.9"/>
<circle cx="418.5" cy="272.4" r="1.79" fill="#fff" stroke="#222" stroke-width="0.65"/>
<text x="426.5" y="262.1" font-size="7.75" font-family="Liberation Serif" font-weight="bold" stroke="#000" stroke-width="0.12">90 nM pFIX</text>
<text x="426.5" y="275.1" font-size="7.75" font-family="Liberation Serif" font-weight="bold" stroke="#000" stroke-width="0.12">0.1 nM pFIXa</text>
</g>
</svg>
</body></html>
